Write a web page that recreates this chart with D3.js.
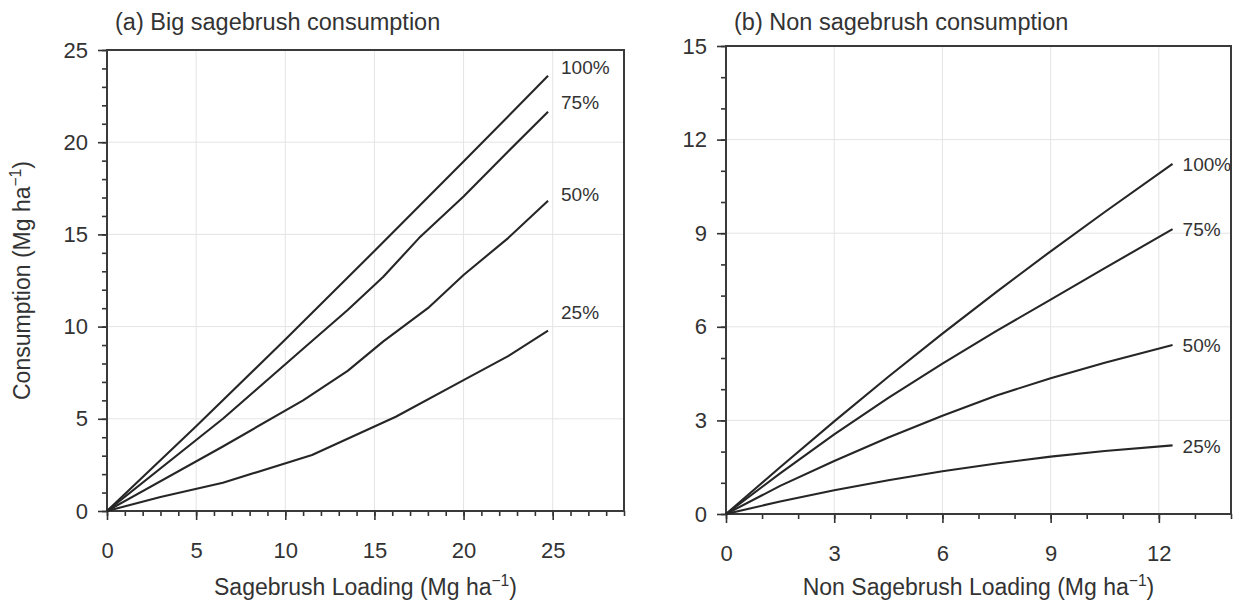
<!DOCTYPE html>
<html>
<head>
<meta charset="utf-8">
<script src="https://cdn.jsdelivr.net/npm/d3@7"></script>
<style>
  body { margin: 0; background: #fff; }
  svg { display: block; }
  text { font-family: "Liberation Sans", Arial, Helvetica, sans-serif; fill: #333; }
</style>
</head>
<body>
<svg id="chart" width="1233" height="601"></svg>
<script>
// ---------- Data ----------
const seriesNames = ["100%", "75%", "50%", "25%"];

// Panel (a): Big sagebrush consumption vs sagebrush loading
const aLoading = {
  "100%": [0, 5, 10, 15, 20, 24.74],
  "75%":  [0, 6.5, 11, 13.5, 15.5, 17.5, 20, 22.5, 24.74],
  "50%":  [0, 6.5, 11, 13.5, 15.5, 18, 20, 22.5, 24.74],
  "25%":  [0, 3, 6.5, 11.5, 16.2, 20, 22.5, 24.74]
};
const aConsumption = {
  "100%": [0, 4.6, 9.3, 14.1, 18.95, 23.6],
  "75%":  [0, 5.0, 8.8, 10.9, 12.7, 14.8, 17.05, 19.5, 21.65],
  "50%":  [0, 3.5, 6.0, 7.6, 9.2, 11.0, 12.8, 14.8, 16.83],
  "25%":  [0, 0.76, 1.53, 3.04, 5.11, 7.1, 8.4, 9.78]
};

// Panel (b): Non sagebrush consumption vs non sagebrush loading
const bLoading = [0, 1.5, 3, 4.5, 6, 7.5, 9, 10.5, 12.38];
const bConsumption = {
  "100%": [0, 1.5, 2.97, 4.4, 5.78, 7.12, 8.42, 9.68, 11.22],
  "75%":  [0, 1.3, 2.55, 3.72, 4.82, 5.87, 6.87, 7.88, 9.13],
  "50%":  [0, 0.9, 1.7, 2.45, 3.15, 3.8, 4.35, 4.85, 5.42],
  "25%":  [0, 0.4, 0.76, 1.08, 1.37, 1.62, 1.84, 2.02, 2.2]
};

const aXTicks = [0, 5, 10, 15, 20, 25];
const aYTicks = [0, 5, 10, 15, 20, 25];
const bXTicks = [0, 3, 6, 9, 12];
const bYTicks = [0, 3, 6, 9, 12, 15];

const aTitle = "(a) Big sagebrush consumption";
const bTitle = "(b) Non sagebrush consumption";
const aXLabel = "Sagebrush Loading";
const bXLabel = "Non Sagebrush Loading";
const yLabel = "Consumption";

// ---------- Drawing ----------
const svg = d3.select("#chart");

function unitLabel(sel, main) {
  sel.append("tspan").text(main + " (Mg ha");
  sel.append("tspan").attr("dy", "-0.55em").attr("font-size", "0.68em").text("\u22121");
  sel.append("tspan").attr("dy", "0.37em").text(")");
}

function panel(cfg) {
  const x = d3.scaleLinear().domain(cfg.xDomain).range([cfg.left, cfg.right]);
  const y = d3.scaleLinear().domain(cfg.yDomain).range([cfg.bottom, cfg.top]);
  const g = svg.append("g");

  // grid
  g.append("g").selectAll("line").data(cfg.xTicks.filter(d => d > cfg.xDomain[0])).join("line")
    .attr("x1", d => x(d)).attr("x2", d => x(d)).attr("y1", cfg.top).attr("y2", cfg.bottom)
    .attr("stroke", "#e4e4e4").attr("stroke-width", 1);
  g.append("g").selectAll("line").data(cfg.yTicks.filter(d => d > cfg.yDomain[0] && d < cfg.yDomain[1])).join("line")
    .attr("x1", cfg.left).attr("x2", cfg.right).attr("y1", d => y(d)).attr("y2", d => y(d))
    .attr("stroke", "#e4e4e4").attr("stroke-width", 1);

  // minor ticks
  const xMinor = d3.range(cfg.xDomain[0], cfg.xDomain[1] + 0.001, 1);
  const yMinor = d3.range(cfg.yDomain[0], cfg.yDomain[1] + 0.001, 1);
  const xm = g.append("g").attr("transform", `translate(0,${cfg.bottom})`)
    .call(d3.axisBottom(x).tickValues(xMinor).tickSize(5).tickFormat(""));
  const ym = g.append("g").attr("transform", `translate(${cfg.left},0)`)
    .call(d3.axisLeft(y).tickValues(yMinor).tickSize(5).tickFormat(""));
  // major ticks
  const xa = g.append("g").attr("transform", `translate(0,${cfg.bottom})`)
    .call(d3.axisBottom(x).tickValues(cfg.xTicks).tickSize(9).tickPadding(22).tickFormat(d3.format("d")));
  const ya = g.append("g").attr("transform", `translate(${cfg.left},0)`)
    .call(d3.axisLeft(y).tickValues(cfg.yTicks).tickSize(9).tickPadding(10).tickFormat(d3.format("d")));
  [xm, ym, xa, ya].forEach(a => {
    a.select(".domain").remove();
    a.selectAll(".tick line").attr("stroke", "#333").attr("stroke-width", 1.6);
    a.selectAll(".tick text").attr("font-size", 22).attr("fill", "#333")
      .attr("font-family", "'Liberation Sans', Arial, sans-serif");
  });

  // frame
  g.append("rect").attr("x", cfg.left).attr("y", cfg.top)
    .attr("width", cfg.right - cfg.left).attr("height", cfg.bottom - cfg.top)
    .attr("fill", "none").attr("stroke", "#3a3a3a").attr("stroke-width", 2);

  // curves
  const line = d3.line().x(d => x(d[0])).y(d => y(d[1]));
  seriesNames.forEach(name => {
    const xs = cfg.xs(name), ys = cfg.ys[name];
    const pts = xs.map((v, i) => [v, ys[i]]);
    g.append("path").datum(pts).attr("d", line)
      .attr("fill", "none").attr("stroke", "#262626").attr("stroke-width", 2.1)
      .attr("stroke-linejoin", "round");
    const last = pts[pts.length - 1];
    g.append("text").attr("x", x(last[0]) + cfg.labelDx)
      .attr("y", y(last[1]) + cfg.labelDy[name])
      .attr("dy", "0.35em").attr("font-size", 19).text(name);
  });

  // titles
  g.append("text").attr("x", cfg.left + 8).attr("y", 30).attr("font-size", 23.5).text(cfg.title);
  const xt = g.append("text").attr("x", (cfg.left + cfg.right) / 2).attr("y", 595)
    .attr("text-anchor", "middle").attr("font-size", 23);
  unitLabel(xt, cfg.xLabel);
  if (cfg.yLabel) {
    const yt = g.append("text")
      .attr("transform", `translate(30,${(cfg.top + cfg.bottom) / 2}) rotate(-90)`)
      .attr("text-anchor", "middle").attr("font-size", 23);
    unitLabel(yt, cfg.yLabel);
  }
}

panel({
  left: 107, right: 624, top: 50, bottom: 511,
  xDomain: [0, 29], yDomain: [0, 25],
  xTicks: aXTicks, yTicks: aYTicks,
  xs: n => aLoading[n], ys: aConsumption,
  labelDx: 13, labelDy: {"100%": -8, "75%": -9, "50%": -6, "25%": -18},
  title: aTitle, xLabel: aXLabel, yLabel: yLabel
});

panel({
  left: 726, right: 1231, top: 46, bottom: 514,
  xDomain: [0, 14], yDomain: [0, 15],
  xTicks: bXTicks, yTicks: bYTicks,
  xs: n => bLoading, ys: bConsumption,
  labelDx: 10, labelDy: {"100%": 0, "75%": 0, "50%": 0, "25%": 1},
  title: bTitle, xLabel: bXLabel, yLabel: null
});
</script>
</body>
</html>
